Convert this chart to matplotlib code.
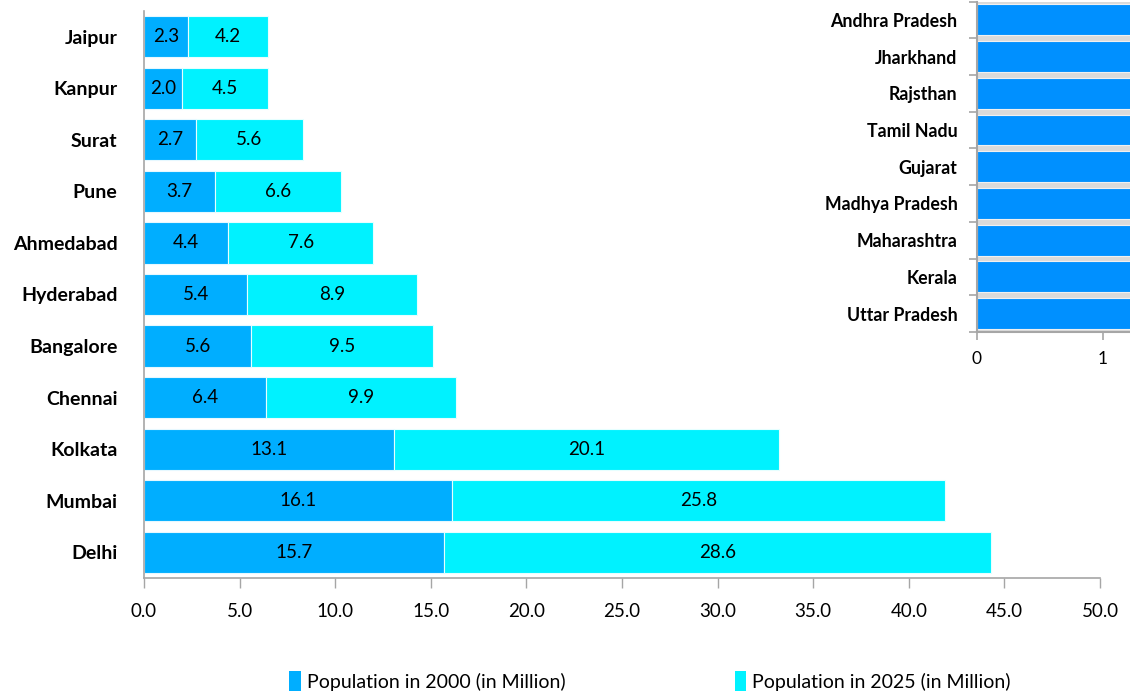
import matplotlib
matplotlib.use("Agg")
import matplotlib.pyplot as plt
from matplotlib.patches import Patch
import numpy as np

plt.rcParams['font.family'] = ['Lato', 'DejaVu Sans']

# ---- data (bottom to top) ----
cities = ["Delhi", "Mumbai", "Kolkata", "Chennai", "Bangalore", "Hyderabad",
          "Ahmedabad", "Pune", "Surat", "Kanpur", "Jaipur"]
pop_2000 = [15.7, 16.1, 13.1, 6.4, 5.6, 5.4, 4.4, 3.7, 2.7, 2.0, 2.3]
pop_2025 = [28.6, 25.8, 20.1, 9.9, 9.5, 8.9, 7.6, 6.6, 5.6, 4.5, 4.2]
series_names = ["Population in 2000 (in Million)", "Population in 2025 (in Million)"]
x_ticks = [0.0, 5.0, 10.0, 15.0, 20.0, 25.0, 30.0, 35.0, 40.0, 45.0, 50.0]

states = ["Uttar Pradesh", "Kerala", "Maharashtra", "Madhya Pradesh", "Gujarat",
          "Tamil Nadu", "Rajsthan", "Jharkhand", "Andhra Pradesh"]
state_values = [1.5, 1.5, 1.5, 1.5, 1.5, 1.5, 1.5, 1.5, 1.5]  # bars run past the image edge
inset_ticks = [0, 1]

C2000 = '#00AEFF'
C2025 = '#00F2FF'
CSTATE = '#0090FF'
GRID = '#a6a6a6'

fig = plt.figure(figsize=(11.3, 6.95), dpi=100)
ax = fig.add_axes([144/1130, 1-578/695, (1100-144)/1130, (578-11)/695])

y = np.arange(len(cities))
b1 = ax.barh(y, pop_2000, height=0.8, color=C2000, edgecolor='#e6f8ff', linewidth=0.8,
             label=series_names[0])
b2 = ax.barh(y, pop_2025, left=pop_2000, height=0.8, color=C2025, edgecolor='#e6ffff',
             linewidth=0.8, label=series_names[1])
ax.bar_label(b1, labels=[f"{v:.1f}" for v in pop_2000], label_type='center', fontsize=13.5)
ax.bar_label(b2, labels=[f"{v:.1f}" for v in pop_2025], label_type='center', fontsize=13.5)

ax.set_xlim(0, 50)
ax.set_ylim(-0.5, len(cities)-0.5)
ax.set_xticks(x_ticks)
ax.set_xticklabels([f"{t:.1f}" for t in x_ticks], fontsize=13.5)
ax.set_yticks(y)
ax.set_yticklabels(cities, fontsize=14, fontweight='bold')
ax.tick_params(axis='y', length=0, pad=19)
ax.tick_params(axis='x', length=7, width=1, color=GRID, pad=11, direction='out')
for s in ['top', 'right']:
    ax.spines[s].set_visible(False)
for s in ['left', 'bottom']:
    ax.spines[s].set_color(GRID)
    ax.spines[s].set_linewidth(1.2)

handles = [Patch(facecolor=C2000, edgecolor='none'), Patch(facecolor=C2025, edgecolor='none')]
fig.legend(handles, series_names, loc='center', bbox_to_anchor=(650/1130, 1-681/695),
           ncol=2, frameon=False, fontsize=14, handlelength=0.6, handleheight=1.2,
           handletextpad=0.3, columnspacing=8.7)

# ---- inset ----
ax2 = fig.add_axes([977/1130, 1-332/695, 251.4/1130, (332-1.5)/695])
ax2.set_facecolor('#dadada')
ys = np.arange(len(states))
ax2.barh(ys, state_values, height=0.84, color=CSTATE, edgecolor='#f0f0f0', linewidth=0.8)
ax2.set_xlim(0, 2)
ax2.set_ylim(-0.5, len(states)-0.5)
ax2.set_xticks(inset_ticks)
ax2.set_xticklabels([str(t) for t in inset_ticks], fontsize=12.5)
ax2.set_yticks(ys)
ax2.set_yticklabels(states, fontsize=12.8, fontweight='bold')
ax2.set_yticks(np.arange(-0.5, len(states), 1.0), minor=True)
ax2.tick_params(axis='y', which='major', length=0, pad=14)
ax2.tick_params(axis='y', which='minor', length=6, width=1.2, color=GRID)
ax2.tick_params(axis='x', length=6, width=1.2, color=GRID, pad=8)
for s in ['top', 'right']:
    ax2.spines[s].set_visible(False)
for s in ['left', 'bottom']:
    ax2.spines[s].set_color(GRID)
    ax2.spines[s].set_linewidth(1.5)

fig.savefig("out.png", dpi=100)
